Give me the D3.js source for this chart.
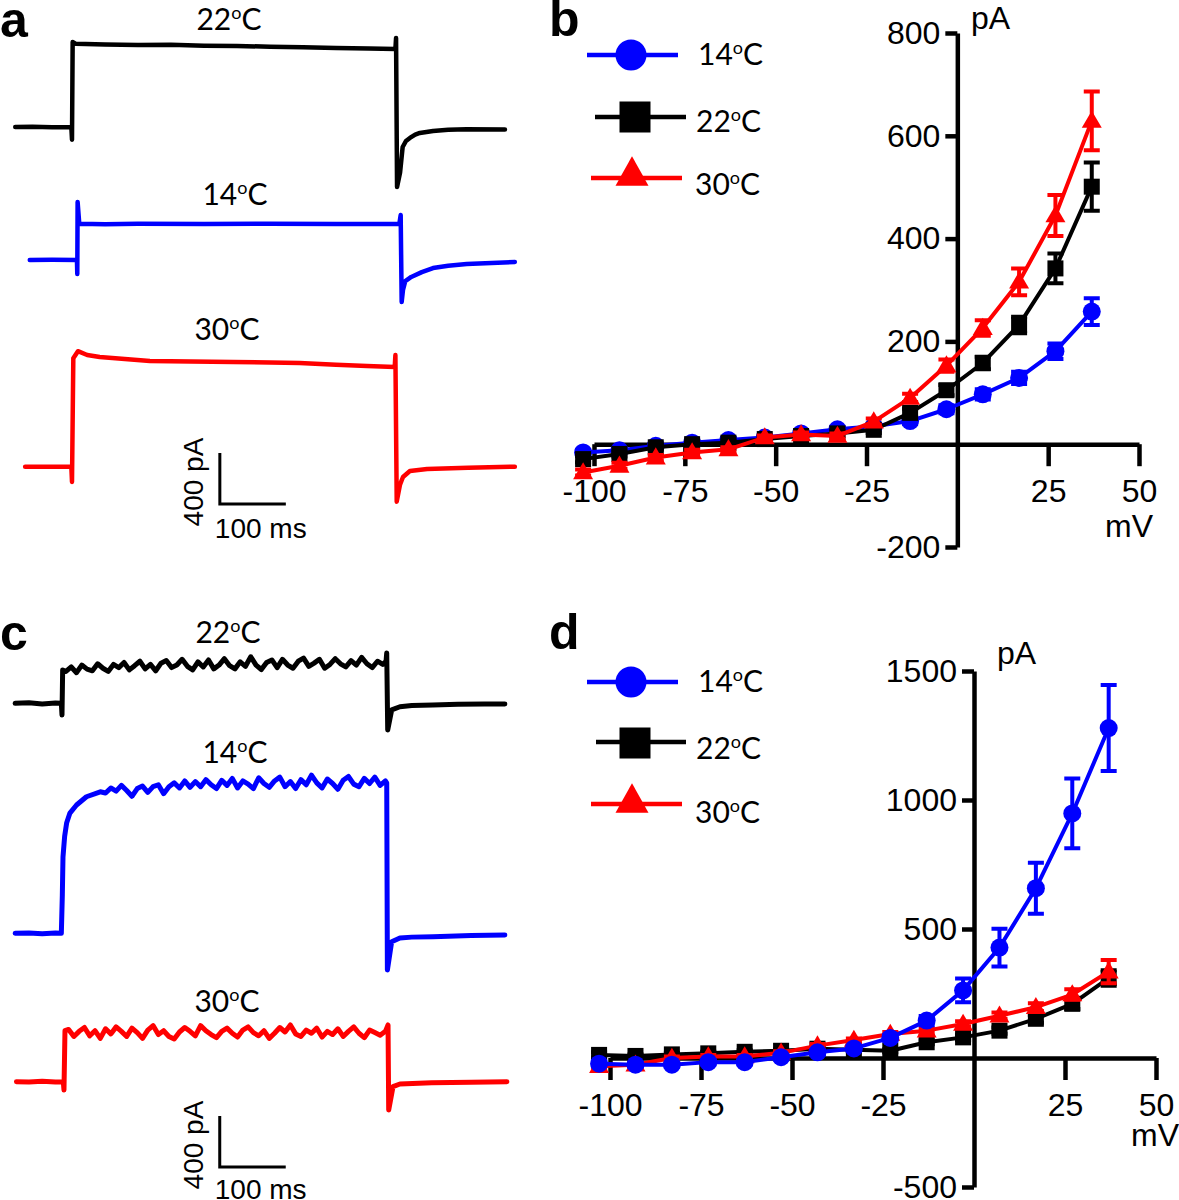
<!DOCTYPE html>
<html>
<head>
<meta charset="utf-8">
<script src="https://cdnjs.cloudflare.com/ajax/libs/d3/7.8.5/d3.min.js"></script>
<style>
  body { margin: 0; background: #fff; }
  svg { display: block; }
</style>
</head>
<body>
<svg id="fig" width="1179" height="1200"></svg>
<script>
// ---------------- data: I/V curves (mV, pA, SEM) ----------------
var voltages = [-103, -93, -83, -73, -63, -53, -43, -33, -23, -13, -3, 7, 17, 27, 37];

var ivB14 = [-16, -12, -3, 3, 8, 13, 21, 29, 35, 45, 68, 97, 129, 181, 258];
var ivB14Err = [5, 4, 4, 4, 4, 4, 4, 5, 5, 6, 8, 10, 12, 15, 26];
var ivB22 = [-29, -19, -6, 0, 3, 10, 16, 21, 28, 61, 105, 158, 232, 342, 501];
var ivB22Err = [6, 5, 5, 4, 4, 4, 4, 5, 6, 8, 10, 12, 16, 29, 47];
var ivB30 = [-55, -42, -26, -16, -10, 13, 19, 16, 44, 90, 153, 226, 316, 445, 629];
var ivB30Err = [6, 6, 5, 5, 4, 4, 4, 5, 6, 8, 12, 15, 26, 40, 57];

var ivD14 = [-22, -26, -26, -16, -16, 3, 22, 37, 78, 145, 262, 428, 658, 948, 1279];
var ivD14Err = [10, 8, 8, 8, 8, 8, 8, 10, 12, 18, 46, 73, 99, 135, 167];
var ivD22 = [12, 8, 14, 18, 24, 28, 36, 32, 28, 61, 80, 106, 152, 210, 310];
var ivD22Err = [10, 6, 6, 6, 6, 6, 6, 6, 6, 8, 10, 12, 15, 20, 30];
var ivD30 = [-32, -26, 0, 6, 6, 20, 48, 70, 93, 106, 132, 164, 197, 246, 335];
var ivD30Err = [8, 6, 6, 6, 6, 6, 6, 6, 8, 8, 10, 12, 15, 20, 45];

var xTicksIV = [-100, -75, -50, -25, 25, 50];
var yTicksB = [-200, 200, 400, 600, 800];
var yTicksD = [-500, 500, 1000, 1500];
var tempNames = ["14", "22", "30"];

// ---------------- data: current traces ([ms from step, pA from holding]) ----------------
var traceA22 = [[-86,0],[-60,2],[-30,-2],[-1,0],[0,-100],[1,666],[6,652],[50,648],[100,643],[150,645],[200,638],[250,635],[300,630],[350,626],[400,620],[450,616],[490,611],[491,698],[492.5,-470],[497,-360],[501,-157],[506,-110],[512,-86],[520,-60],[527,-47],[547,-31],[570,-22],[598,-18],[656,-20]];
var traceA14 = [[-64,0],[-30,1],[7.5,0],[8,-110],[8.5,455],[11,285],[50,280],[100,284],[200,282],[300,284],[400,282],[496,283],[498,353],[499.5,-329],[501.5,-235],[505,-165],[514,-133],[530,-95],[547,-63],[570,-45],[598,-31],[671,-16]];
var traceA30 = [[-71,0],[-40,-1],[-1,0],[0,-120],[2,850],[9,906],[23,876],[42,860],[80,845],[118,829],[180,826],[244,821],[300,818],[345,813],[400,800],[447,790],[489,782],[490,876],[492,-274],[497,-140],[501.5,-81],[512,-34],[538,-18],[600,-8],[671,0]];

var traceC22Head = [[-71,0],[-50,5],[-30,-5],[-10,3],[-1,0],[0,-92],[1,262]];
var traceC22Plateau = [250, 285, 240, 300, 268, 255, 310, 275, 250, 305,
  280, 320, 262, 295, 330, 270, 305, 255, 315, 335,
  280, 300, 345, 290, 262, 325, 285, 340, 270, 300,
  350, 295, 270, 325, 290, 365, 300, 265, 320, 340,
  280, 345, 300, 275, 330, 355, 290, 315, 345, 275,
  305, 350, 310, 285, 335, 300, 360, 310, 280, 330, 305];
var traceC22Tail = [[491,330],[492,394],[493.5,-209],[499.5,-52],[512,-27],[530,-18],[562,-13],[600,-8],[640,-6],[671,-5]];

var traceC14Head = [[-71,0],[-50,3],[-30,-3],[-10,2],[-1,0],[0.5,300],[1.5,598],[4,760],[7,865],[12,943],[22,1006],[37,1071],[58,1110]];
var traceC14Plateau = [1100, 1140, 1115, 1160, 1120, 1075, 1135, 1155, 1105, 1150,
  1165, 1095, 1150, 1180, 1140, 1195, 1145, 1190, 1150, 1205,
  1165, 1135, 1200, 1160, 1215, 1140, 1195, 1170, 1135, 1220,
  1175, 1145, 1195, 1225, 1150, 1190, 1135, 1205, 1165, 1240,
  1180, 1140, 1210, 1175, 1130, 1200, 1230, 1170, 1150, 1215,
  1175, 1225, 1160, 1195];
var traceC14Tail = [[492,1180],[493,-288],[499.5,-66],[512,-37],[530,-30],[562,-27],[620,-18],[671,-13]];

var traceC30Head = [[-69,0],[-50,-3],[-30,4],[-10,-2],[2,0],[3,-65],[4.5,400]];
var traceC30Plateau = [410, 355, 395, 425, 360, 400, 340, 415, 375, 430,
  395, 355, 420, 385, 340, 405, 440, 370, 400, 355,
  335, 390, 425, 395, 360, 440, 400, 370, 345, 395,
  420, 380, 350, 405, 430, 385, 360, 400, 340, 380,
  425, 390, 445, 375, 355, 405, 380, 420, 350, 395,
  370, 415, 355, 395, 430, 380, 345, 405, 385, 365, 395];
var traceC30Tail = [[494,445],[495,-222],[501.5,-39],[512,-18],[560,-8],[620,-4],[674,0]];

var scaleBarMs = 100, scaleBarPA = 400;

// ---------------- helpers ----------------
var BLUE = "#0000ff", RED = "#ff0000", BLACK = "#000000";
var svg = d3.select("#fig");

function buildTrace(head, plateau, t0, dt, tail) {
	var pts = head.slice();
	plateau.forEach(function(v, i) { pts.push([t0 + i * dt, v]); });
	return pts.concat(tail);
}

function tempLabel(x, y, num, anchor) {
	var t = svg.append("text")
		.attr("x", x).attr("y", y)
		.attr("text-anchor", anchor)
		.style("font-family", "Lato, 'Open Sans', sans-serif")
		.style("font-size", "30px")
		.style("fill", "#000");
	t.append("tspan").text(num);
	t.append("tspan").attr("dy", -11).style("font-size", "18px").text("o");
	t.append("tspan").attr("dy", 11).text("C");
}

function drawMarker(g, shape, cx, cy, s, color) {
	if (shape === "circle") {
		g.append("circle").attr("cx", cx).attr("cy", cy).attr("r", s / 2).style("fill", color);
	} else if (shape === "square") {
		g.append("rect").attr("x", cx - s / 2).attr("y", cy - s / 2).attr("width", s).attr("height", s).style("fill", color);
	} else {
		var h = s * 0.95;
		g.append("path")
			.attr("d", "M" + cx + "," + (cy - h * 0.6) + "L" + (cx + s / 2 + 1) + "," + (cy + h * 0.4) + "L" + (cx - s / 2 - 1) + "," + (cy + h * 0.4) + "Z")
			.style("fill", color);
	}
}

// ---------------- traces panel ----------------
function tracesPanel(cfg) {
	var x = d3.scaleLinear().domain([0, scaleBarMs]).range([cfg.x0, cfg.x0 + 66]);
	cfg.traces.forEach(function(tr) {
		var y = d3.scaleLinear().domain([0, scaleBarPA]).range([tr.base, tr.base - 51]);
		var line = d3.line().x(function(d) { return x(d[0]); }).y(function(d) { return y(d[1]); });
		svg.append("path")
			.datum(tr.data)
			.attr("d", line)
			.style("fill", "none")
			.style("stroke", tr.color)
			.style("stroke-width", tr.width || 4.5)
			.style("stroke-linejoin", "round")
			.style("stroke-linecap", "round");
		tempLabel(tr.labelX, tr.labelY, tr.name, "middle");
	});
	// scale bar
	var yb = d3.scaleLinear().domain([0, scaleBarPA]).range([cfg.barY, cfg.barY - 51]);
	var bx = x(cfg.barT);
	svg.append("path")
		.attr("d", "M" + bx + "," + yb(scaleBarPA) + "V" + yb(0) + "H" + x(cfg.barT + scaleBarMs))
		.style("fill", "none").style("stroke", "#000").style("stroke-width", 3);
	svg.append("text")
		.attr("transform", "translate(" + (bx - 17) + "," + (cfg.barY - 22) + ") rotate(-90)")
		.attr("text-anchor", "middle")
		.style("font-family", "'Liberation Sans', Arial, sans-serif")
		.style("font-size", "28px")
		.text(scaleBarPA + " pA");
	svg.append("text")
		.attr("x", bx - 5).attr("y", cfg.barY + cfg.msDy)
		.style("font-family", "'Liberation Sans', Arial, sans-serif")
		.style("font-size", "28px")
		.text(scaleBarMs + " ms");
}

// ---------------- I/V panel ----------------
function ivPanel(cfg) {
	var x = d3.scaleLinear().domain([-100, 50]).range(cfg.xRange);
	var y = d3.scaleLinear().domain(cfg.yDomain).range(cfg.yRange);
	var g = svg.append("g");

	var xAxis = g.append("g")
		.attr("transform", "translate(0," + y(0) + ")")
		.call(d3.axisBottom(x).tickValues(xTicksIV).tickSize(22).tickSizeOuter(0).tickPadding(13).tickFormat(function(d) { return String(d); }));
	var yAxis = g.append("g")
		.attr("transform", "translate(" + x(0) + ",0)")
		.call(d3.axisLeft(y).tickValues(cfg.yTicks).tickSize(12).tickSizeOuter(0).tickPadding(5).tickFormat(function(d) { return String(d); }));
	[xAxis, yAxis].forEach(function(a) {
		a.selectAll("path, line").style("stroke", "#000").style("stroke-width", 4.5);
		a.selectAll("text")
			.style("font-family", "'Liberation Sans', Arial, sans-serif")
			.style("font-size", "32px")
			.style("fill", "#000");
	});

	g.append("text").attr("x", cfg.mvX).attr("y", cfg.mvY).attr("text-anchor", "end")
		.style("font-family", "'Liberation Sans', Arial, sans-serif").style("font-size", "32px").text("mV");
	g.append("text").attr("x", cfg.paX).attr("y", cfg.paY)
		.style("font-family", "'Liberation Sans', Arial, sans-serif").style("font-size", "32px").text("pA");

	var line = d3.line().x(function(d) { return x(d[0]); }).y(function(d) { return y(d[1]); });
	cfg.series.forEach(function(s) {
		var pts = voltages.map(function(v, i) { return [v, s.values[i], s.err[i]]; });
		var sg = g.append("g");
		sg.append("path").datum(pts).attr("d", line)
			.style("fill", "none").style("stroke", s.color).style("stroke-width", 4).style("stroke-linejoin", "round");
		pts.forEach(function(p) {
			var px = x(p[0]), yl = y(p[1] - p[2]), yh = y(p[1] + p[2]);
			sg.append("path")
				.attr("d", "M" + px + "," + yl + "V" + yh + "M" + (px - 8) + "," + yh + "H" + (px + 8) + "M" + (px - 8) + "," + yl + "H" + (px + 8))
				.style("fill", "none").style("stroke", s.color).style("stroke-width", 4);
			drawMarker(sg, s.shape, px, y(p[1]), s.shape === "square" ? 16 : 18, s.color);
		});
	});

	// legend
	cfg.legend.forEach(function(l) {
		svg.append("line").attr("x1", l.x1).attr("x2", l.x2).attr("y1", l.y).attr("y2", l.y)
			.style("stroke", l.color).style("stroke-width", 4.5);
		drawMarker(svg, l.shape, l.mx, l.my, 31, l.color);
		tempLabel(l.tx, l.ty, l.name, "start");
	});
}

// ---------------- panel letters ----------------
[["a", 0, 37], ["b", 549, 36], ["c", 0, 650], ["d", 549, 649]].forEach(function(p) {
	svg.append("text").attr("x", p[1]).attr("y", p[2])
		.style("font-family", "'Liberation Sans', Arial, sans-serif")
		.style("font-weight", "bold").style("font-size", "50px").text(p[0]);
});

// ---------------- panel a ----------------
tracesPanel({
	x0: 72, barT: 224, barY: 504, msDy: 34,
	traces: [
		{ name: tempNames[1], data: traceA22, base: 127, color: BLACK, labelX: 229, labelY: 30 },
		{ name: tempNames[0], data: traceA14, base: 260, color: BLUE, labelX: 235, labelY: 205 },
		{ name: tempNames[2], data: traceA30, base: 466.7, color: RED, labelX: 227, labelY: 340 }
	]
});

// ---------------- panel c ----------------
tracesPanel({
	x0: 62, barT: 239, barY: 1167, msDy: 32,
	traces: [
		{ name: tempNames[1], data: buildTrace(traceC22Head, traceC22Plateau, 6, 8, traceC22Tail), base: 703.3, color: BLACK, labelX: 228, labelY: 643, width: 5 },
		{ name: tempNames[0], data: buildTrace(traceC14Head, traceC14Plateau, 66, 8, traceC14Tail), base: 933.3, color: BLUE, labelX: 235, labelY: 763, width: 5 },
		{ name: tempNames[2], data: buildTrace(traceC30Head, traceC30Plateau, 10, 8, traceC30Tail), base: 1081.7, color: RED, labelX: 227, labelY: 1012, width: 5 }
	]
});

// ---------------- panel b ----------------
ivPanel({
	xRange: [594, 1139], yDomain: [-200, 800], yRange: [547, 33], yTicks: yTicksB,
	mvX: 1153, mvY: 537, paX: 971, paY: 29,
	series: [
		{ values: ivB14, err: ivB14Err, color: BLUE, shape: "circle" },
		{ values: ivB22, err: ivB22Err, color: BLACK, shape: "square" },
		{ values: ivB30, err: ivB30Err, color: RED, shape: "triangle" }
	],
	legend: [
		{ name: tempNames[0], color: BLUE, shape: "circle", x1: 587, x2: 678, y: 55, mx: 631, my: 55, tx: 698, ty: 65 },
		{ name: tempNames[1], color: BLACK, shape: "square", x1: 595, x2: 686, y: 117, mx: 635, my: 117, tx: 696, ty: 132 },
		{ name: tempNames[2], color: RED, shape: "triangle", x1: 591, x2: 682, y: 178, mx: 632, my: 174, tx: 695, ty: 195 }
	]
});

// ---------------- panel d ----------------
ivPanel({
	xRange: [610, 1156], yDomain: [-500, 1500], yRange: [1187, 671], yTicks: yTicksD,
	mvX: 1179, mvY: 1146, paX: 997, paY: 664,
	series: [
		{ values: ivD22, err: ivD22Err, color: BLACK, shape: "square" },
		{ values: ivD30, err: ivD30Err, color: RED, shape: "triangle" },
		{ values: ivD14, err: ivD14Err, color: BLUE, shape: "circle" }
	],
	legend: [
		{ name: tempNames[0], color: BLUE, shape: "circle", x1: 587, x2: 678, y: 682, mx: 631, my: 682, tx: 698, ty: 692 },
		{ name: tempNames[1], color: BLACK, shape: "square", x1: 596, x2: 686, y: 742, mx: 635, my: 743, tx: 696, ty: 759 },
		{ name: tempNames[2], color: RED, shape: "triangle", x1: 591, x2: 682, y: 804, mx: 632, my: 801, tx: 695, ty: 823 }
	]
});
</script>
</body>
</html>
